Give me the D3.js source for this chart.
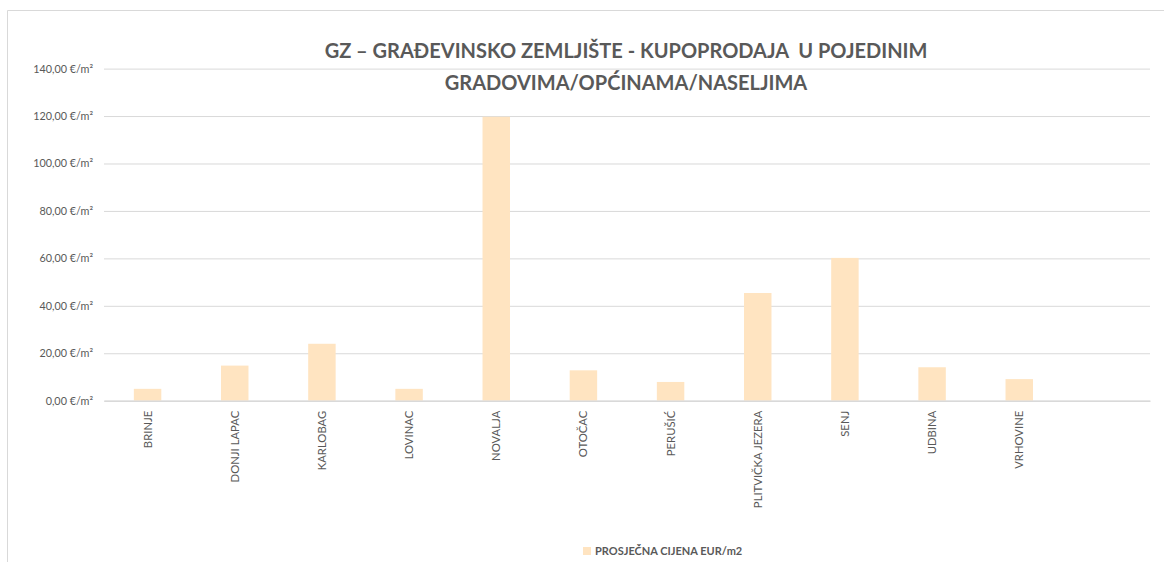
<!DOCTYPE html>
<html>
<head>
<meta charset="utf-8">
<script src="https://cdn.jsdelivr.net/npm/d3@7"></script>
<style>
  html, body { margin: 0; padding: 0; background: #fff; }
  svg { display: block; }
</style>
</head>
<body>
<svg id="chart" width="1164" height="562"></svg>
<script>
const categories = ["BRINJE", "DONJI LAPAC", "KARLOBAG", "LOVINAC", "NOVALJA", "OTOČAC", "PERUŠIĆ", "PLITVIČKA JEZERA", "SENJ", "UDBINA", "VRHOVINE", ""];
const values = [5.0, 14.8, 24.0, 5.0, 119.7, 12.8, 7.9, 45.4, 60.2, 14.1, 9.1, null];
const yTicks = [0, 20, 40, 60, 80, 100, 120, 140];
const titleLines = ["GZ – GRAĐEVINSKO ZEMLJIŠTE - KUPOPRODAJA  U POJEDINIM", "GRADOVIMA/OPĆINAMA/NASELJIMA"];
const seriesName = "PROSJEČNA CIJENA EUR/m2";

const svg = d3.select("#chart");
const W = 1164, H = 562;
const m = { left: 104, right: 1150, top: 68.6, bottom: 400.7 };
const textColor = "#595959";
const gridColor = "#d9d9d9";
const barColor = "#FFE4C1";
const font = "Lato, 'Open Sans', sans-serif";

// chart border (top and left visible)
svg.append("line").attr("x1", 7.5).attr("x2", 7.5).attr("y1", 10.5).attr("y2", H).attr("stroke", "#d9d9d9");
svg.append("line").attr("x1", 7.5).attr("x2", W).attr("y1", 10.5).attr("y2", 10.5).attr("stroke", "#d9d9d9");

const x = d3.scaleBand().domain(categories.map((c, i) => i)).range([m.left, m.right]).paddingInner(0.685).paddingOuter(0.3425);
const y = d3.scaleLinear().domain([0, 140]).range([m.bottom, m.top]);

// gridlines
const yAxis = d3.axisLeft(y).tickValues(yTicks).tickSize(-(m.right - m.left))
  .tickFormat(d => d3.format(".2f")(d).replace(".", ",") + " €/m²");
const gy = svg.append("g").attr("transform", `translate(${m.left},0)`).call(yAxis);
gy.select(".domain").remove();
gy.selectAll(".tick line").attr("stroke", gridColor).attr("stroke-width", 1);
gy.selectAll(".tick text").attr("x", -11).attr("fill", textColor)
  .style("font-family", font).style("font-size", "10.8px");

// bars
svg.append("g").selectAll("rect").data(values.map((v, i) => ({ v, i })).filter(d => d.v != null))
  .join("rect")
  .attr("x", d => x(d.i))
  .attr("width", x.bandwidth())
  .attr("y", d => y(d.v))
  .attr("height", d => y(0) - y(d.v))
  .attr("fill", barColor);

// x axis
const xAxis = d3.axisBottom(x).tickSize(0).tickFormat(i => categories[i]);
const gx = svg.append("g").attr("transform", `translate(0,${m.bottom})`).call(xAxis);
gx.select(".domain").attr("stroke", gridColor).attr("stroke-width", 1.5);
gx.selectAll(".tick text")
  .attr("transform", "rotate(-90)")
  .attr("text-anchor", "end")
  .attr("x", -10)
  .attr("y", 0)
  .attr("dy", "0.35em")
  .attr("fill", textColor)
  .style("font-family", font).style("font-size", "11.3px");

// title
svg.append("g").selectAll("text").data(titleLines).join("text")
  .attr("x", 626)
  .attr("y", (d, i) => 58 + i * 32)
  .attr("text-anchor", "middle")
  .attr("fill", textColor)
  .style("white-space", "pre")
  .attr("xml:space", "preserve")
  .style("font-family", font).style("font-weight", "bold").style("font-size", "20px")
  .text(d => d);

// legend
const lg = svg.append("g");
lg.append("rect").attr("x", 583).attr("y", 547).attr("width", 8).attr("height", 8).attr("fill", barColor);
lg.append("text").attr("x", 595).attr("y", 554.5).attr("fill", textColor)
  .style("font-family", font).style("font-weight", "bold").style("font-size", "11px")
  .text(seriesName);
</script>
</body>
</html>
